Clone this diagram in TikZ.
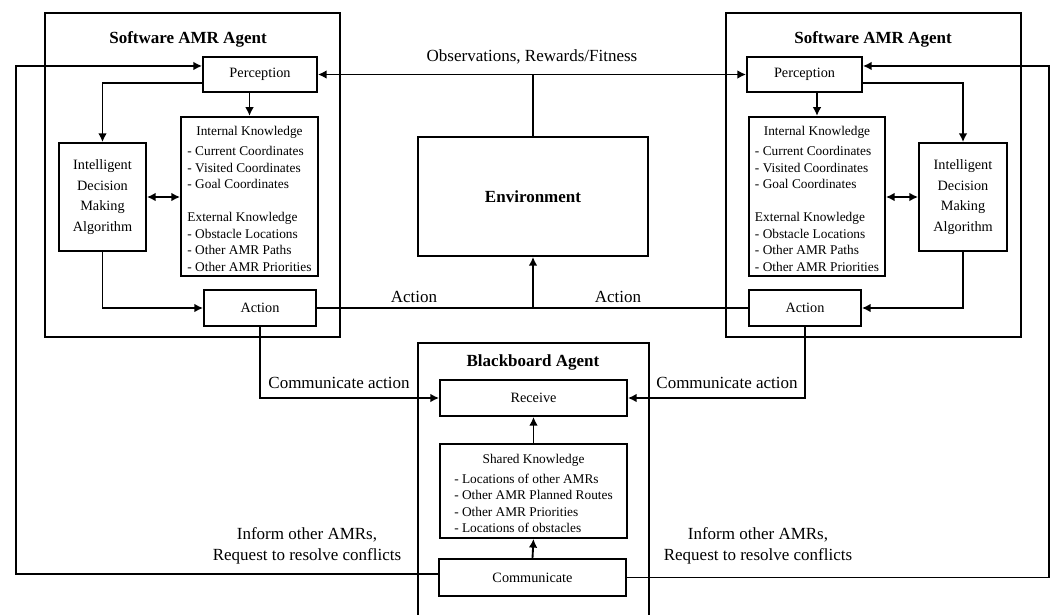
\documentclass[tikz,border=0pt]{standalone}
\usepackage{fontspec}
\setmainfont{Liberation Serif}
\usetikzlibrary{arrows.meta}

\newcommand{\msgsize}{\fontsize{12.75}{15.75}\selectfont}
\newcommand{\blocksize}{\fontsize{10.7}{15.5}\selectfont}
\newcommand{\listsize}{\fontsize{10}{12.4}\selectfont}

\begin{document}
\begin{tikzpicture}[x=0.75pt, y=-0.75pt, line width=1.4pt]
    \tikzset{wh/.style 2 args = {minimum width=#1*0.75pt, minimum height=#2*0.75pt}}
    \tikzset{agent/.style = {shape=rectangle, draw, inner sep=0pt}}
    \tikzset{block/.style = {shape=rectangle, draw, inner sep=0pt, align=center, font=\blocksize}}
    \tikzset{listing/.style = {shape=rectangle, draw, inner sep=0pt, font=\listsize}}
    \tikzset{heading/.style = {font=\msgsize\bfseries}}
    \tikzset{msg/.style = {font=\msgsize, align=center}}
    \tikzset{edge/.style = {->, > = {Latex[length=6.5pt, width=6.5pt]}}}
    \tikzset{twoway/.style = {<->, > = {Latex[length=6.5pt, width=6.5pt]}}}

    \useasboundingbox (0,0) rectangle (1052,614);

    % left software agent
    \node[agent, wh={295}{324}] (lagent) at (192.5,175) {};
    \node[heading] (ltitle) at (188,39) {Software AMR Agent};
    \node[block, wh={114}{35}] (lperc) at (260,74.5) {Perception};
    \node[listing, wh={137}{159}] (lknow) at (249.5,196.5) {%
        \begin{tabular}{@{}l@{}}
        \multicolumn{1}{@{}c@{}}{\rule{0pt}{14pt}Internal Knowledge}\\[2.6pt]
        - Current Coordinates\\
        - Visited Coordinates\\
        - Goal Coordinates\\[12.4pt]
        External Knowledge\\
        - Obstacle Locations\\
        - Other AMR Paths\\
        - Other AMR Priorities
        \end{tabular}};
    \node[block, wh={87}{108}] (ldecide) at (102.5,197) {Intelligent\\Decision\\Making\\Algorithm};
    \node[block, wh={112}{36}] (lact) at (260,308) {Action};

    % right software agent
    \node[agent, wh={295}{324}] (ragent) at (873.5,175) {};
    \node[heading] (rtitle) at (873,39) {Software AMR Agent};
    \node[block, wh={115}{35}] (rperc) at (804.5,74.5) {Perception};
    \node[listing, wh={136}{159}] (rknow) at (817,196.5) {%
        \begin{tabular}{@{}l@{}}
        \multicolumn{1}{@{}c@{}}{\rule{0pt}{14pt}Internal Knowledge}\\[2.6pt]
        - Current Coordinates\\
        - Visited Coordinates\\
        - Goal Coordinates\\[12.4pt]
        External Knowledge\\
        - Obstacle Locations\\
        - Other AMR Paths\\
        - Other AMR Priorities
        \end{tabular}};
    \node[block, wh={88}{108}] (rdecide) at (963,197) {Intelligent\\Decision\\Making\\Algorithm};
    \node[block, wh={112}{36}] (ract) at (805,308) {Action};

    % environment
    \node[block, wh={230}{119}, font=\msgsize\bfseries] (env) at (533,196.5) {Environment};

    % blackboard agent
    \node[agent, draw=none, wh={229}{270}] (board) at (533.5,479) {};
    \node[heading] (btitle) at (533,362) {Blackboard Agent};
    \node[block, wh={187}{36}] (recv) at (533.5,398) {Receive};
    \node[listing, wh={187}{94}] (shared) at (533.5,491) {%
        \begin{tabular}{@{}l@{}}
        \multicolumn{1}{@{}c@{}}{\rule{0pt}{14pt}Shared Knowledge}\\[2.6pt]
        - Locations of other AMRs\\
        - Other AMR Planned Routes\\
        - Other AMR Priorities\\
        - Locations of obstacles
        \end{tabular}};
    \node[block, wh={187}{37}] (comm) at (532.5,577.5) {Communicate};

    % free corners of the long wires
    \coordinate (lwire) at (16,0);
    \coordinate (rwire) at (1049,0);

    % texts on the connectors
    \node[msg] (obsmsg) at (532,57) {Observations, Rewards/Fitness};
    \node[msg] (lactmsg) at (414,297) {Action};
    \node[msg] (ractmsg) at (618,297) {Action};
    \node[msg] (lcommsg) at (339,383) {Communicate action};
    \node[msg] (rcommsg) at (727,383) {Communicate action};
    \node[msg] (linform) at (307,545.5) {Inform other AMRs,\\Request to resolve conflicts};
    \node[msg] (rinform) at (758,545.5) {Inform other AMRs,\\Request to resolve conflicts};

    \draw (board.south west) |- (board.north east) -- (board.south east);

    \draw[edge] (lperc.south -| lknow.north) to (lknow.north);
    \draw[edge] ([yshift=-6.4pt]lperc.west) -| (ldecide.north);
    \draw[twoway] (ldecide.east) to (ldecide.east -| lknow.west);
    \draw[edge] (ldecide.south) |- (lact.west);
    \draw[edge] (rperc.south -| rknow.north) to (rknow.north);
    \draw[edge] ([yshift=-6.4pt]rperc.east) -| (rdecide.north);
    \draw[twoway] (rdecide.west) to (rdecide.west -| rknow.east);
    \draw[edge] (rdecide.south) |- (ract.east);

    \draw[twoway] (lperc.east) to (rperc.west);
    \draw (env.north) to (env.north |- lperc.east);
    \draw (lact.east) to (ract.west);
    \draw[edge] (lact.east -| env.south) to (env.south);

    \draw[edge] (lact.south) |- (recv.west);
    \draw[edge] (ract.south) |- (recv.east);
    \draw[edge] (shared.north) to (recv.south);
    \draw[edge] (comm.north) to (shared.south);
    \draw[edge] ([yshift=2.6pt]comm.west) -- ([yshift=2.6pt]comm.west -| lwire) |- ([yshift=6.4pt]lperc.west);
    \draw[edge] (comm.east) -- (comm.east -| rwire) |- ([yshift=6.4pt]rperc.east);
\end{tikzpicture}
\end{document}
